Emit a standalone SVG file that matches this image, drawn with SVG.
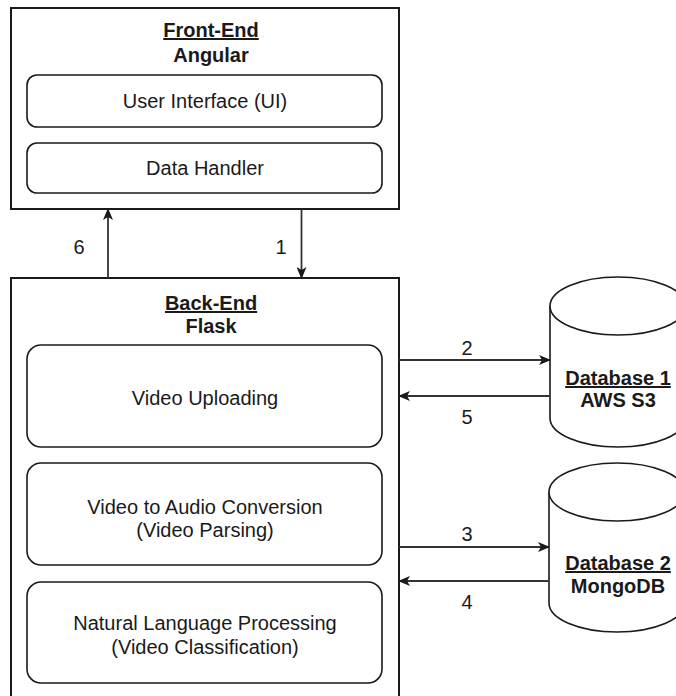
<svg xmlns="http://www.w3.org/2000/svg" width="676" height="696" viewBox="0 0 676 696">
<defs>
<style>
.box{fill:#fff;stroke:#1a1a1a;stroke-width:2}
.inner{fill:#fff;stroke:#1a1a1a;stroke-width:1.6}
.t{font-family:"Liberation Sans",Arial,sans-serif;font-size:20px;fill:#1a1a1a;text-anchor:middle}
.b{font-weight:bold}
.u{text-decoration:underline}
.edge{fill:none;stroke:#333;stroke-width:1.8}
</style>
<marker id="ah" markerWidth="12" markerHeight="10" refX="11" refY="5" orient="auto" markerUnits="userSpaceOnUse">
<path d="M0,0 L12,5 L0,10 L3,5 Z" fill="#1a1a1a"/>
</marker>
</defs>
<rect width="676" height="696" fill="#fff"/>

<g id="frontend">
<rect class="box" x="11" y="8" width="388" height="201"/>
<text class="t b u" x="211" y="37">Front-End</text>
<text class="t b" x="211" y="62">Angular</text>
</g>
<g id="ui">
<rect class="inner" x="27" y="75" width="355" height="52" rx="10"/>
<text class="t" x="205" y="108">User Interface (UI)</text>
</g>
<g id="datahandler">
<rect class="inner" x="27" y="143" width="355" height="50" rx="10"/>
<text class="t" x="205" y="175">Data Handler</text>
</g>

<g id="backend">
<rect class="box" x="11" y="278" width="388" height="430"/>
<text class="t b u" x="211" y="310">Back-End</text>
<text class="t b" x="211" y="333">Flask</text>
</g>
<g id="upload">
<rect class="inner" x="27" y="345" width="355" height="102" rx="14"/>
<text class="t" x="205" y="405">Video Uploading</text>
</g>
<g id="convert">
<rect class="inner" x="27" y="463" width="355" height="102" rx="14"/>
<text class="t" x="205" y="514">Video to Audio Conversion</text>
<text class="t" x="205" y="537">(Video Parsing)</text>
</g>
<g id="nlp">
<rect class="inner" x="27" y="582" width="355" height="101" rx="14"/>
<text class="t" x="205" y="630">Natural Language Processing</text>
<text class="t" x="205" y="654">(Video Classification)</text>
</g>

<g id="db1">
<path class="inner" d="M550,306 A68,29 0 0 1 686,306 L686,418 A68,29 0 0 1 550,418 Z"/>
<path class="inner" fill="none" d="M550,306 A68,29 0 0 0 686,306"/>
<text class="t b u" x="618" y="385">Database 1</text>
<text class="t b" x="618" y="407">AWS S3</text>
</g>
<g id="db2">
<path class="inner" d="M549,492 A68,29 0 0 1 685,492 L685,603 A68,29 0 0 1 549,603 Z"/>
<path class="inner" fill="none" d="M549,492 A68,29 0 0 0 685,492"/>
<text class="t b u" x="618" y="570">Database 2</text>
<text class="t b" x="618" y="593">MongoDB</text>
</g>

<g id="connectors">
<line class="edge" x1="301.5" y1="209" x2="301.5" y2="278" marker-end="url(#ah)"/>
<line class="edge" x1="108" y1="278" x2="108" y2="209" marker-end="url(#ah)"/>
<line class="edge" x1="399" y1="360" x2="550" y2="360" marker-end="url(#ah)"/>
<line class="edge" x1="550" y1="396" x2="399" y2="396" marker-end="url(#ah)"/>
<line class="edge" x1="399" y1="547" x2="549" y2="547" marker-end="url(#ah)"/>
<line class="edge" x1="549" y1="581" x2="399" y2="581" marker-end="url(#ah)"/>
<text class="t" x="79" y="254">6</text>
<text class="t" x="281" y="254">1</text>
<text class="t" x="467" y="355">2</text>
<text class="t" x="467" y="424">5</text>
<text class="t" x="467" y="541">3</text>
<text class="t" x="467" y="609">4</text>
</g>
</svg>
